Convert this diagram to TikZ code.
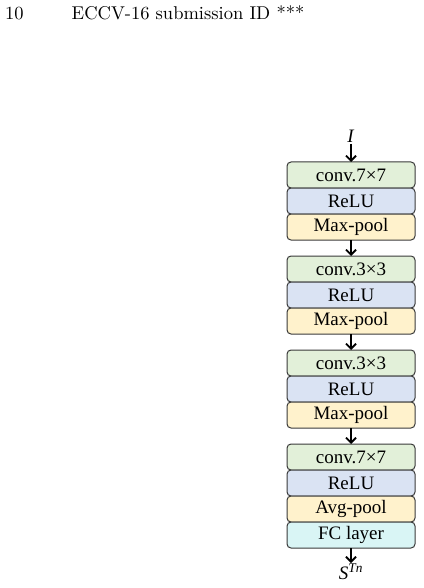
\documentclass[tikz,border=0pt]{standalone}
\usepackage{fontspec}
\newfontfamily\timesfont{Liberation Serif}
\newfontfamily\headfont{lmroman10-regular.otf}
\usetikzlibrary{positioning,arrows.meta}
\definecolor{convgreen}{HTML}{E2F0D9}
\definecolor{relublue}{HTML}{DAE3F3}
\definecolor{poolyellow}{HTML}{FFF2CC}
\definecolor{fccyan}{HTML}{D9F5F5}
\definecolor{boxline}{HTML}{3A3A3A}
\begin{document}
\begin{tikzpicture}[x=1pt, y=1pt,
    layer/.style={draw=boxline, line width=1pt, rounded corners=4pt,
        minimum width=128pt, minimum height=26pt, inner sep=0pt, outer sep=0pt,
        font=\timesfont\fontsize{19}{22}\selectfont},
    label/.style={inner sep=1pt, font=\timesfont\fontsize{19}{22}\selectfont},
    header/.style={anchor=base west, inner sep=0pt, font=\headfont\fontsize{18.5}{22}\selectfont},
    flow/.style={line width=1.8pt, -{Straight Barb[length=5pt, width=10pt, line width=1.8pt]}}]
    \useasboundingbox (0, 0) rectangle (423, -588);
    % page header
    \node[header] (pagenum) at (5, -19.5) {10};
    \node[header] (title) at (71.5, -19.5) {ECCV-16 submission ID ***};
    % block 1
    \node[layer, fill=convgreen]  (conv1) at (351, -175) {conv.7×7};
    \node[layer, fill=relublue]   (relu1) [below=0pt of conv1] {ReLU};
    \node[layer, fill=poolyellow] (pool1) [below=0pt of relu1] {Max-pool};
    % block 2
    \node[layer, fill=convgreen]  (conv2) [below=16pt of pool1] {conv.3×3};
    \node[layer, fill=relublue]   (relu2) [below=0pt of conv2] {ReLU};
    \node[layer, fill=poolyellow] (pool2) [below=0pt of relu2] {Max-pool};
    % block 3
    \node[layer, fill=convgreen]  (conv3) [below=16pt of pool2] {conv.3×3};
    \node[layer, fill=relublue]   (relu3) [below=0pt of conv3] {ReLU};
    \node[layer, fill=poolyellow] (pool3) [below=0pt of relu3] {Max-pool};
    % block 4
    \node[layer, fill=convgreen]  (conv4) [below=16pt of pool3] {conv.7×7};
    \node[layer, fill=relublue]   (relu4) [below=0pt of conv4] {ReLU};
    \node[layer, fill=poolyellow] (pool4) [below=0pt of relu4] {Avg-pool};
    \node[layer, fill=fccyan]     (fc)    [below=0pt of pool4] {FC layer};
    % input and output
    \node[label] (input)  [above=18pt of conv1] {\textit{I}};
    \node[label] (output) [below=15pt of fc] {\textit{S}\textsuperscript{\textit{Tn}}};
    \draw[flow] (input) -- (conv1);
    \draw[flow] (pool1) -- (conv2);
    \draw[flow] (pool2) -- (conv3);
    \draw[flow] (pool3) -- (conv4);
    \draw[flow] (fc) -- (output);
\end{tikzpicture}
\end{document}
